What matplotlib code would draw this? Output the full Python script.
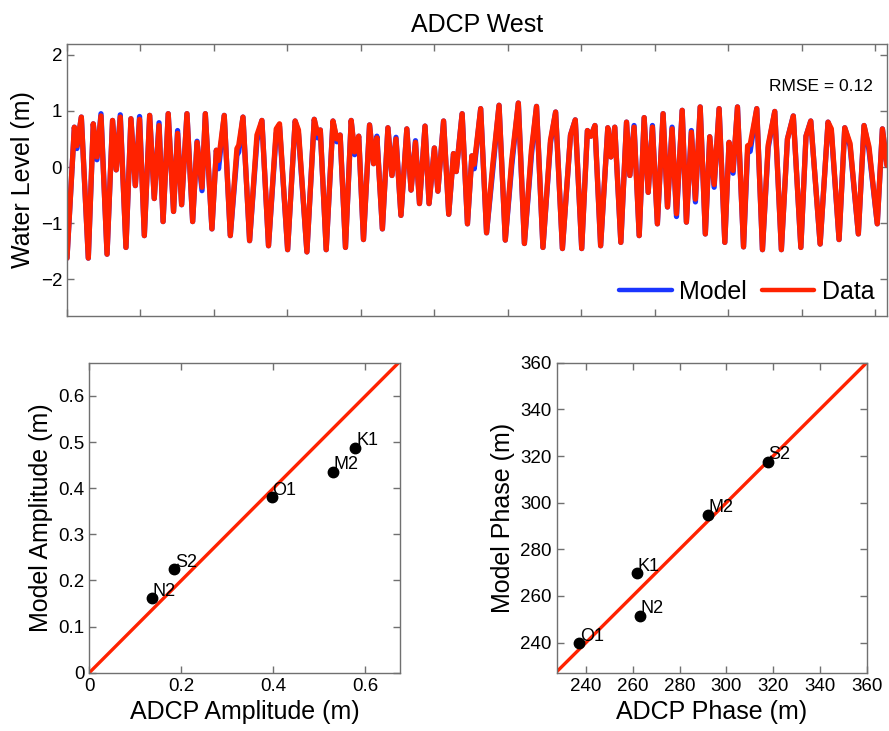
import matplotlib
matplotlib.use("Agg")
import matplotlib.pyplot as plt
import numpy as np

plt.rcParams['font.family'] = ['Liberation Sans', 'DejaVu Sans']

# water level time series, turning points (days, metres)
t_days = [0.00, 0.40, 0.54, 0.78, 1.16, 1.43, 1.63, 1.85, 2.18, 2.48,
          2.68, 2.90, 3.21, 3.48, 3.72, 3.95, 4.21, 4.50, 4.75, 5.01,
          5.23, 5.51, 5.80, 6.02, 6.24, 6.53, 6.84, 7.08, 7.35, 7.53,
          7.89, 8.13, 8.25, 8.56, 8.89, 9.25, 9.35, 9.58, 9.94, 10.34,
          10.61, 10.97, 11.39, 11.57, 12.01, 12.42, 12.60, 13.06, 13.46, 13.64,
          13.79, 14.11, 14.48, 14.69, 14.87, 15.16, 15.47, 15.66, 15.88, 16.14,
          16.47, 16.69, 16.87, 17.17, 17.47, 17.69, 17.91, 18.18, 18.50, 18.73,
          18.97, 19.19, 19.49, 19.71, 20.00, 20.19, 20.50, 20.78, 21.04, 21.19,
          21.51, 21.80, 22.04, 22.17, 22.52, 22.84, 23.18, 23.52, 23.86, 24.21,
          24.57, 24.90, 25.28, 25.56, 25.91, 26.32, 26.60, 26.97, 27.41, 27.67,
          28.02, 28.33, 28.52, 28.74, 29.05, 29.44, 29.61, 29.82, 30.15, 30.46,
          30.64, 30.87, 31.15, 31.42, 31.64, 31.87, 32.14, 32.45, 32.69, 32.94,
          33.18, 33.49, 33.72, 33.99, 34.21, 34.47, 34.75, 34.99, 35.23, 35.50,
          35.81, 36.04, 36.26, 36.50, 36.83, 37.05, 37.19, 37.55, 37.86, 38.17,
          38.53, 38.89, 39.22, 39.54, 39.95, 40.23, 40.49, 41.00, 41.43, 41.61,
          42.03, 42.34, 42.63, 43.08, 43.39, 43.66, 44.11, 44.39, 44.64]

data_wl = [-1.62, 0.71, 0.38, 0.89, -1.62, 0.77, 0.18, 0.91, -1.55, 0.83,
           -0.05, 0.89, -1.43, 0.86, -0.33, 0.85, -1.22, 0.92, -0.56, 0.74,
           -0.97, 0.95, -0.79, 0.60, -0.67, 0.95, -0.97, 0.44, -0.36, 0.95,
           -1.10, 0.30, 0.12, 0.92, -1.22, 0.33, 0.39, 0.89, -1.31, 0.57,
           0.83, -1.40, 0.68, 0.77, -1.47, 0.82, 0.66, -1.51, 0.85, 0.60,
           0.66, -1.47, 0.82, 0.50, 0.57, -1.43, 0.83, 0.27, 0.55, -1.29,
           0.75, 0.06, 0.52, -1.10, 0.70, -0.15, 0.50, -0.86, 0.68, -0.41,
           0.44, -0.65, 0.73, -0.65, 0.34, -0.43, 0.82, -0.84, 0.24, -0.08,
           0.95, -1.01, 0.20, 0.05, 1.04, -1.17, 0.05, 1.10, -1.30, 0.12,
           1.14, -1.36, 0.30, 1.08, -1.43, 0.48, 0.98, -1.45, 0.57, 0.84,
           -1.45, 0.65, 0.55, 0.74, -1.40, 0.70, 0.18, 0.71, -1.34, 0.80,
           -0.15, 0.71, -1.22, 0.88, -0.45, 0.71, -1.01, 0.95, -0.71, 0.68,
           -0.83, 1.01, -0.98, 0.62, -0.57, 1.07, -1.19, 0.54, -0.31, 1.04,
           -1.34, 0.44, -0.06, 1.07, -1.42, 0.38, 0.40, 1.04, -1.47, 0.39,
           0.99, -1.47, 0.50, 0.91, -1.43, 0.55, 0.82, -1.37, 0.80, 0.68,
           -1.29, 0.70, 0.42, -1.19, 0.74, 0.36, -1.01, 0.68, 0.03]

# where the blue model curve shows from under the data curve
model_dev_at = [2, 6, 7, 11, 15, 19, 23, 27, 28, 32, 35, 36, 39, 42, 43, 46,
                49, 53, 57, 62, 66, 70, 83, 86, 89, 92, 95, 111, 115, 119,
                120, 123, 124, 128, 132, 135, 136, 139, 149, 152, 155]
model_dev = [-0.05, -0.05, 0.04, 0.04, 0.05, 0.05, 0.05, 0.02, -0.06, -0.15,
             -0.12, -0.12, -0.10, -0.08, -0.05, -0.06, -0.08, -0.05, -0.05, 0.03,
             0.03, 0.03, -0.08, -0.10, -0.10, -0.10, -0.05, 0.03, 0.03, 0.03,
             -0.05, 0.03, -0.05, -0.05, -0.05, -0.12, -0.12, -0.05, -0.05, -0.05,
             -0.06]

rmse = 0.12

# tidal constituents
const = ['N2', 'S2', 'O1', 'M2', 'K1']
adcp_amp = [0.136, 0.185, 0.396, 0.530, 0.578]
model_amp = [0.161, 0.224, 0.380, 0.436, 0.487]

const_ph = ['O1', 'K1', 'N2', 'M2', 'S2']
adcp_ph = [237.2, 261.7, 263.1, 292.1, 317.7]
model_ph = [239.7, 269.7, 251.6, 294.7, 317.6]

red = '#ff2200'
blue = '#1a35ff'
spine_c = '#707070'

model_wl = np.array(data_wl, dtype=float)
model_wl[model_dev_at] += model_dev

fig = plt.figure(figsize=(8.89, 7.31), dpi=100)

ax = fig.add_axes([67/889, 1-316/731, 820/889, 272/731])
ax.plot(t_days, model_wl, color=blue, lw=3.8, label='Model',
        solid_joinstyle='round', solid_capstyle='round')
ax.plot(t_days, data_wl, color=red, lw=3.8, label='Data',
        solid_joinstyle='round', solid_capstyle='round')
ax.set_xlim(0, 44.64)
ax.set_ylim(-2.65, 2.19)
ax.set_xticks(np.arange(0, 45, 4))
ax.set_xticklabels([])
ax.set_yticks([-2, -1, 0, 1, 2])
ax.set_ylabel('Water Level (m)', fontsize=18)
ax.set_title('ADCP West', fontsize=18, pad=9)
ax.text(0.983, 0.843, 'RMSE = %.2f' % rmse, transform=ax.transAxes,
        ha='right', va='center', fontsize=12.5)
leg = ax.legend(loc='lower right', ncol=2, frameon=False, fontsize=18,
                handlelength=2.1, handletextpad=0.3, columnspacing=0.6,
                borderaxespad=0.1, bbox_to_anchor=(1.0, 0.0))
for line in leg.get_lines():
    line.set_linewidth(3.2)

ax1 = fig.add_axes([89.3/889, 1-672.7/731, 310.7/889, 310/731])
ax1.plot([0, 0.7], [0, 0.7], color=red, lw=2.4)
ax1.plot(adcp_amp, model_amp, 'o', color='black', ms=7.5)
for name, xv, yv in zip(const, adcp_amp, model_amp):
    ax1.annotate(name, (xv, yv), xytext=(0.5, 2), textcoords='offset points',
                 ha='left', va='baseline', fontsize=13)
ax1.set_xlim(0, 0.675)
ax1.set_ylim(0, 0.672)
ax1.set_xticks([0, 0.2, 0.4, 0.6])
ax1.set_xticklabels(['0', '0.2', '0.4', '0.6'])
ax1.set_yticks(np.arange(0, 0.61, 0.1))
ax1.set_yticklabels(['0', '0.1', '0.2', '0.3', '0.4', '0.5', '0.6'])
ax1.set_xlabel('ADCP Amplitude (m)', fontsize=18)
ax1.set_ylabel('Model Amplitude (m)', fontsize=18)

ax2 = fig.add_axes([556.7/889, 1-672.7/731, 310/889, 310/731])
ax2.plot([220, 360], [220, 360], color=red, lw=2.4)
ax2.plot(adcp_ph, model_ph, 'o', color='black', ms=7.5)
for name, xv, yv in zip(const_ph, adcp_ph, model_ph):
    ax2.annotate(name, (xv, yv), xytext=(0.5, 2), textcoords='offset points',
                 ha='left', va='baseline', fontsize=13)
ax2.set_xlim(227.5, 360)
ax2.set_ylim(227.1, 360)
ax2.set_xticks(np.arange(240, 361, 20))
ax2.set_yticks(np.arange(240, 361, 20))
ax2.set_xlabel('ADCP Phase (m)', fontsize=18)
ax2.set_ylabel('Model Phase (m)', fontsize=18)

for a in (ax, ax1, ax2):
    a.tick_params(direction='in', top=True, right=True, length=5,
                  color=spine_c, labelsize=13.5, width=1)
    for s in a.spines.values():
        s.set_color(spine_c)
        s.set_linewidth(1)

fig.savefig('out.png', dpi=100)
